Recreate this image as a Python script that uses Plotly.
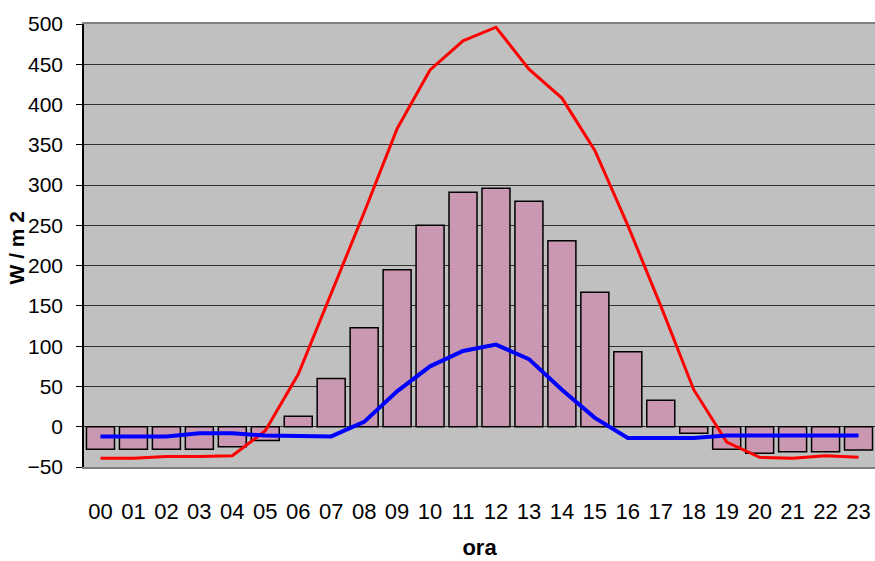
import plotly.graph_objects as go

hours = ["00", "01", "02", "03", "04", "05", "06", "07", "08", "09", "10", "11",
         "12", "13", "14", "15", "16", "17", "18", "19", "20", "21", "22", "23"]

bar_values = [-28, -28, -28, -28, -25, -17, 13, 60, 123, 195, 250, 291,
              296, 280, 231, 167, 93, 33, -8, -28, -33, -31, -31, -29]

red_values = [-39, -39, -37, -37, -36, -5, 65, 165, 266, 370, 443, 479,
              496, 444, 408, 343, 250, 150, 46, -19, -38, -39, -36, -38]

blue_values = [-12, -12, -12, -8, -8, -11, -11, -12, 6, 44, 75, 94,
               102, 84, 46, 11, -14, -14, -14, -11, -11, -11, -11, -11]

y_min, y_max, y_step = -50, 500, 50

FONT = "Liberation Sans, Arial, sans-serif"

fig = go.Figure()
fig.add_trace(go.Bar(
    x=hours, y=bar_values,
    marker=dict(color="#CC99B3", line=dict(color="black", width=1.5),
                pattern=dict(shape=".", fgcolor="#C08AA6", size=3, solidity=0.25)),
    showlegend=False,
))
fig.add_trace(go.Scatter(
    x=hours, y=red_values, mode="lines",
    line=dict(color="#FF0000", width=3), showlegend=False,
))
fig.add_trace(go.Scatter(
    x=hours, y=blue_values, mode="lines",
    line=dict(color="#0000FF", width=4), showlegend=False,
))

zero_pos = (0 - y_min) / (y_max - y_min)

fig.update_layout(
    width=875, height=561,
    margin=dict(l=84, r=0, t=24, b=94),
    paper_bgcolor="white",
    plot_bgcolor="#C0C0C0",
    bargap=0.15,
    font=dict(family=FONT, color="black"),
    xaxis=dict(
        type="category", range=[-0.5, 23.5],
        showgrid=False, zeroline=False,
        showline=True, linecolor="#808080", linewidth=2, mirror=True,
        ticks="", ticklabelstandoff=24,
        tickfont=dict(family=FONT, size=22, color="black"),
        title=dict(text="<b>ora</b>", font=dict(family=FONT, size=22, color="black"),
                   standoff=16),
    ),
    xaxis2=dict(
        overlaying="x", anchor="free", position=zero_pos,
        range=[-0.5, 23.5], tick0=-0.5, dtick=1,
        showticklabels=False, showgrid=False, zeroline=False,
        showline=True, linecolor="black", linewidth=2,
        ticks="outside", ticklen=8, tickcolor="black", tickwidth=1,
        side="bottom",
    ),
    yaxis=dict(
        range=[y_min, y_max], dtick=y_step, tick0=0,
        showgrid=True, gridcolor="#303030", gridwidth=1,
        zeroline=False,
        showline=True, linecolor="black", linewidth=1.5,
        ticks="outside", ticklen=6, tickcolor="black",
        ticklabelstandoff=9,
        tickfont=dict(family=FONT, size=21, color="black"),
    ),
    annotations=[dict(
        text="<b>W / m 2</b>", textangle=-90,
        xref="paper", yref="paper", x=0, y=0.5,
        xanchor="center", yanchor="middle", xshift=-68, yshift=-2,
        showarrow=False, font=dict(family=FONT, size=21, color="black"),
    )],
)

fig.write_html("out.html")
